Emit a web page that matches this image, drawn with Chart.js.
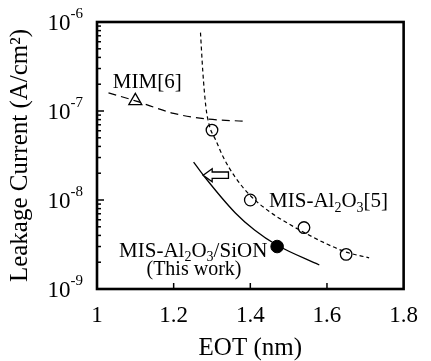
<!DOCTYPE html>
<html><head><meta charset="utf-8">
<script src="https://cdn.jsdelivr.net/npm/chart.js@4.4.1/dist/chart.umd.min.js"></script>
<style>html,body{margin:0;padding:0;background:#fff;}#wrap{width:431px;height:361px;}</style>
</head><body><div id="wrap"><canvas id="c" width="431" height="361"></canvas></div>
<script>
// ---- data ----
const xTicks = [1, 1.2, 1.4, 1.6, 1.8];
const yTickExps = [-6, -7, -8, -9];

const mimX = [1.1];
const mimY = [1.3e-7];
const misX = [1.3, 1.4, 1.54, 1.65];
const misY = [6.1e-8, 1.0e-8, 4.9e-9, 2.45e-9];
const workX = [1.47];
const workY = [3.0e-9];

const mimFitX = [1.03, 1.1, 1.2, 1.29, 1.38];
const mimFitY = [1.6e-7, 1.3e-7, 9.4e-8, 8.1e-8, 7.7e-8];
const misFitX = [1.270, 1.276, 1.284, 1.293, 1.31, 1.33, 1.36, 1.40, 1.45, 1.50, 1.55, 1.60, 1.65, 1.71];
const misFitY = [7.6e-7, 2.8e-7, 1.12e-7, 6.9e-8, 4.7e-8, 3.0e-8, 1.82e-8, 1.12e-8, 7.4e-9, 5.4e-9, 4.1e-9, 3.2e-9, 2.6e-9, 2.24e-9];
const workFitX = [1.252, 1.277, 1.361, 1.411, 1.469, 1.58];
const workFitY = [2.67e-8, 1.91e-8, 7.15e-9, 4.6e-9, 3.12e-9, 1.86e-9];

// ---- annotations (placed in data space) ----
const FONT = '"Liberation Serif", "Times New Roman", serif';
const notes = [
  {x: 1.131, y: 2.17e-7, align: 'center', size: 21, parts: [['MIM[6]', 0]]},
  {x: 1.449, y: 1.0e-8, align: 'left', size: 21, parts: [['MIS-Al', 0], ['2', 1], ['O', 0], ['3', 1], ['[5]', 0]]},
  {x: 1.251, y: 2.75e-9, align: 'center', size: 21, parts: [['MIS-Al', 0], ['2', 1], ['O', 0], ['3', 1], ['/SiON', 0]]},
  {x: 1.253, y: 1.72e-9, align: 'center', size: 20, parts: [['(This work)', 0]]}
];
const arrowFrom = [1.343, 1.9e-8];
const arrowTo = [1.277, 1.9e-8];

const pts = (xs, ys) => xs.map((v, i) => ({x: v, y: ys[i]}));

function drawRich(ctx, parts, x, cy, align, size) {
  const small = Math.round(size * 0.66);
  let w = 0;
  const ws = parts.map(p => {
    ctx.font = (p[1] ? small : size) + 'px ' + FONT;
    const m = ctx.measureText(p[0]).width; w += m; return m;
  });
  let sx = align === 'center' ? x - w / 2 : (align === 'right' ? x - w : x);
  const base = cy + size * 0.33;
  ctx.textAlign = 'left'; ctx.textBaseline = 'alphabetic'; ctx.fillStyle = '#000';
  parts.forEach((p, i) => {
    ctx.font = (p[1] ? small : size) + 'px ' + FONT;
    let by = base;
    if (p[1] === 1) by = base + size * 0.22;
    if (p[1] === 2) by = base - size * 0.45;
    ctx.fillText(p[0], sx, by);
    sx += ws[i];
  });
}

const deco = {
  id: 'deco',
  afterDatasetsDraw(chart) {
    const {ctx, chartArea: a, scales: {x, y}} = chart;
    ctx.save();
    // hollow arrow
    const x1 = x.getPixelForValue(arrowFrom[0]), x2 = x.getPixelForValue(arrowTo[0]);
    const ay = y.getPixelForValue(arrowFrom[1]);
    const bh = 3.2, hh = 6.5, hl = 9;
    ctx.beginPath();
    ctx.moveTo(x2, ay);
    ctx.lineTo(x2 + hl, ay - hh);
    ctx.lineTo(x2 + hl, ay - bh);
    ctx.lineTo(x1, ay - bh);
    ctx.lineTo(x1, ay + bh);
    ctx.lineTo(x2 + hl, ay + bh);
    ctx.lineTo(x2 + hl, ay + hh);
    ctx.closePath();
    ctx.fillStyle = '#fff'; ctx.fill();
    ctx.strokeStyle = '#000'; ctx.lineWidth = 1.3; ctx.setLineDash([]); ctx.stroke();
    // notes
    notes.forEach(n => drawRich(ctx, n.parts, x.getPixelForValue(n.x), y.getPixelForValue(n.y), n.align, n.size));
    // inward ticks
    ctx.strokeStyle = '#000'; ctx.lineWidth = 1.5;
    yTickExps.forEach(e => {
      for (let m = 1; m <= 9; m++) {
        const v = m * Math.pow(10, e);
        const py = y.getPixelForValue(v);
        if (py < a.top + 1 || py > a.bottom - 1) continue;
        const len = m === 1 ? 7 : 4;
        ctx.beginPath(); ctx.moveTo(a.left, py); ctx.lineTo(a.left + len, py); ctx.stroke();
      }
    });
    xTicks.forEach(v => {
      const px = x.getPixelForValue(v);
      if (px < a.left + 1 || px > a.right - 1) return;
      ctx.beginPath(); ctx.moveTo(px, a.bottom); ctx.lineTo(px, a.bottom - 6); ctx.stroke();
    });
    // frame
    ctx.lineWidth = 2.6;
    ctx.strokeRect(a.left, a.top, a.right - a.left, a.bottom - a.top);
    // y tick labels 10^e
    yTickExps.forEach(e => {
      const py = y.getPixelForValue(Math.pow(10, e));
      ctx.fillStyle = '#000'; ctx.textBaseline = 'alphabetic'; ctx.textAlign = 'right';
      ctx.font = '15px ' + FONT;
      const sup = String(e);
      const sw = ctx.measureText(sup).width;
      ctx.fillText(sup, 83, py - 4);
      ctx.font = '23px ' + FONT;
      ctx.fillText('10', 83 - sw, py + 7.6);
    });
    ctx.restore();
  }
};

new Chart(document.getElementById('c'), {
  type: 'scatter',
  data: {
    datasets: [
      {data: pts(mimFitX, mimFitY), showLine: true, pointRadius: 0, borderColor: '#000', borderWidth: 1.2, borderDash: [8, 5], cubicInterpolationMode: 'monotone'},
      {data: pts(misFitX, misFitY), showLine: true, pointRadius: 0, borderColor: '#000', borderWidth: 1.2, borderDash: [4, 3], cubicInterpolationMode: 'monotone'},
      {data: pts(workFitX, workFitY), showLine: true, pointRadius: 0, borderColor: '#000', borderWidth: 1.3, cubicInterpolationMode: 'monotone'},
      {data: pts(mimX, mimY), showLine: false, pointStyle: 'triangle', pointRadius: 7.5, borderColor: '#000', backgroundColor: '#fff', borderWidth: 1.3},
      {data: pts(misX, misY), showLine: false, pointStyle: 'circle', pointRadius: 5.8, borderColor: '#000', backgroundColor: '#fff', borderWidth: 1.3},
      {data: pts(workX, workY), showLine: false, pointStyle: 'circle', pointRadius: 6.3, borderColor: '#000', backgroundColor: '#000', borderWidth: 1}
    ]
  },
  options: {
    responsive: false, animation: false, devicePixelRatio: 1,
    layout: {padding: {left: 0, right: 17, top: 22, bottom: 0}},
    plugins: {legend: {display: false}, tooltip: {enabled: false}},
    scales: {
      x: {
        type: 'linear', min: 1, max: 1.8,
        afterBuildTicks: s => { s.ticks = xTicks.map(v => ({value: v})); },
        afterFit: s => { s.height = 72; },
        grid: {display: false, drawTicks: false}, border: {display: false},
        ticks: {padding: 13, color: '#000', font: {family: FONT, size: 23}, callback: v => String(v)},
        title: {display: true, text: 'EOT (nm)', color: '#000', font: {family: FONT, size: 25, lineHeight: 1}, padding: {top: 0, bottom: 0}}
      },
      y: {
        type: 'logarithmic', min: 1e-9, max: 1e-6,
        afterFit: s => { s.width = 97; },
        grid: {display: false, drawTicks: false}, border: {display: false},
        ticks: {display: false},
        title: {display: true, text: 'Leakage Current (A/cm²)', color: '#000', font: {family: FONT, size: 25, lineHeight: 1}, padding: {top: 8, bottom: 0}}
      }
    }
  },
  plugins: [deco]
});
</script>
</body></html>
